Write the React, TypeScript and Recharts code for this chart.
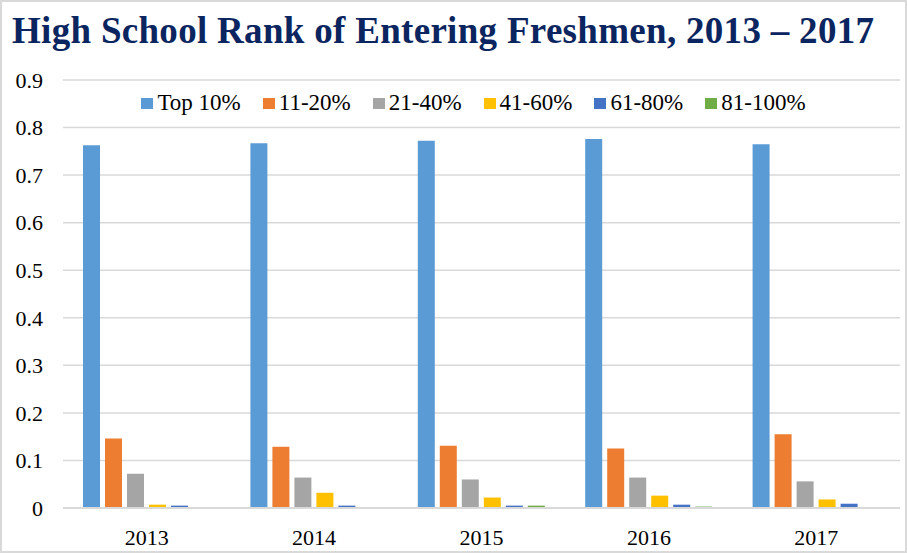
import React from "react";
import { BarChart, Bar, XAxis, YAxis, CartesianGrid } from "recharts";

const years = ["2013", "2014", "2015", "2016", "2017"];

const top10 = [0.763, 0.767, 0.772, 0.776, 0.765];
const r11to20 = [0.146, 0.129, 0.131, 0.125, 0.155];
const r21to40 = [0.072, 0.064, 0.06, 0.064, 0.056];
const r41to60 = [0.007, 0.032, 0.022, 0.026, 0.018];
const r61to80 = [0.005, 0.005, 0.005, 0.007, 0.009];
const r81to100 = [0, 0, 0.005, 0.003, 0];

const yTicks = [0, 0.1, 0.2, 0.3, 0.4, 0.5, 0.6, 0.7, 0.8, 0.9];

const series = [
  { key: "top10", name: "Top 10%", values: top10, color: "#5B9BD5" },
  { key: "r11to20", name: "11-20%", values: r11to20, color: "#ED7D31" },
  { key: "r21to40", name: "21-40%", values: r21to40, color: "#A5A5A5" },
  { key: "r41to60", name: "41-60%", values: r41to60, color: "#FFC000" },
  { key: "r61to80", name: "61-80%", values: r61to80, color: "#4472C4" },
  { key: "r81to100", name: "81-100%", values: r81to100, color: "#70AD47" },
];

const data = years.map((year, i) => {
  const row: Record<string, string | number> = { year };
  series.forEach((s) => {
    row[s.key] = s.values[i];
  });
  return row;
});

const font = "Liberation Serif, serif";

// legend drawn as html on top of the plot, inside the 0.8-0.9 band
function ChartLegend() {
  return (
    <div
      style={{
        position: "absolute",
        left: 64,
        top: 88,
        width: 837,
        display: "flex",
        justifyContent: "center",
        fontFamily: font,
        fontWeight: 400,
        fontSize: 23,
        color: "#000",
        lineHeight: "26px",
      }}
    >
      {series.map((s) => (
        <div
          key={s.key}
          style={{ display: "flex", alignItems: "center", marginRight: 22 }}
        >
          <span
            style={{
              width: 12,
              height: 11,
              background: s.color,
              display: "inline-block",
              marginRight: 4,
            }}
          />
          <span>{s.name}</span>
        </div>
      ))}
    </div>
  );
}

export default function App() {
  return (
    <div
      style={{
        position: "absolute",
        left: 0,
        top: 0,
        width: 907,
        height: 553,
        boxSizing: "border-box",
        border: "2px solid #d9d9d9",
        background: "#fff",
        overflow: "hidden",
        fontFamily: font,
      }}
    >
      <div
        style={{
          position: "absolute",
          left: 10,
          top: 7,
          fontWeight: "bold",
          fontSize: 37,
          letterSpacing: 0.3,
          color: "#0B2560",
          whiteSpace: "nowrap",
        }}
      >
        High School Rank of Entering Freshmen, 2013 – 2017
      </div>
      <div style={{ position: "absolute", left: -2, top: -2 }}>
        <BarChart
          width={907}
          height={553}
          data={data}
          margin={{ top: 80, right: 7, bottom: 15, left: 8 }}
          barSize={17}
          barGap={5}
        >
          <CartesianGrid
            vertical={false}
            stroke="#d9d9d9"
            strokeWidth={1.5}
          />
          <XAxis
            dataKey="year"
            height={30}
            tickLine={false}
            tickSize={0}
            tickMargin={21}
            axisLine={{ stroke: "#d9d9d9", strokeWidth: 2 }}
            tick={{ fill: "#000", fontSize: 22, fontFamily: font }}
          />
          <YAxis
            width={55}
            domain={[0, 0.9]}
            ticks={yTicks}
            interval={0}
            axisLine={false}
            tickLine={false}
            tickSize={0}
            tickMargin={20}
            tick={{ fill: "#000", fontSize: 22, fontFamily: font }}
          />
          {series.map((s) => (
            <Bar
              key={s.key}
              dataKey={s.key}
              name={s.name}
              fill={s.color}
              isAnimationActive={false}
            />
          ))}
        </BarChart>
      </div>
      <ChartLegend />
    </div>
  );
}
